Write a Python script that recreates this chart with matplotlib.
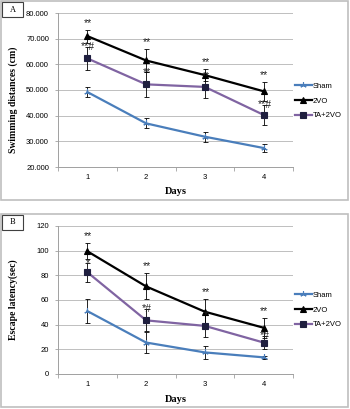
import matplotlib.pyplot as plt
from matplotlib.patches import Rectangle

days = [1, 2, 3, 4]
day_labels = ['1', '2', '3', '4']
groups = ['Sham', '2VO', 'TA+2VO']

# panel A: swimming distance
sham_a = [49.2, 37.0, 31.8, 27.4]
sham_a_err = [2.0, 1.9, 2.0, 1.4]
vo_a = [71.0, 61.5, 55.8, 49.5]
vo_a_err = [2.5, 4.3, 2.4, 3.7]
ta_a = [62.3, 52.2, 51.2, 40.3]
ta_a_err = [4.5, 4.8, 4.2, 3.8]
vo_a_marks = ['**', '**', '**', '**']
ta_a_marks = ['**#', '**', '**', '**#']

# panel B: escape latency
sham_b = [51.0, 25.5, 17.5, 13.5]
sham_b_err = [9.5, 8.5, 5.0, 1.5]
vo_b = [99.5, 71.0, 50.5, 37.5]
vo_b_err = [6.5, 10.5, 10.5, 8.0]
ta_b = [82.5, 43.5, 39.0, 25.5]
ta_b_err = [7.5, 9.0, 9.0, 5.0]
vo_b_marks = ['**', '**', '**', '**']
ta_b_marks = ['*', '*#', '*', '*#']

W, H = 350, 409
fig = plt.figure(figsize=(W / 100, H / 100), dpi=100)

TICK_FONT = 'Liberation Sans'
LABEL_FONT = 'Liberation Serif'
colors = ['#4a7ebb', 'black', '#8064a2']
markers = [(3, 2, 0), '^', 's']


def px(x, y, w, h):
    return [x / W, 1 - (y + h) / H, w / W, h / H]


def panel(top, frame_h, letter, series, errs, marks, ylim, yticks, yfmt,
          ylabel, ylab_y, plot_h, days_y, leg_y):
    # frame
    fig.patches.append(Rectangle((1 / W, 1 - (top + frame_h) / H), 347 / W, frame_h / H,
                                 transform=fig.transFigure, fill=False,
                                 edgecolor='#bfbfbf', lw=1.2))
    fig.patches.append(Rectangle((2 / W, 1 - (top + 16) / H), 21 / W, 15 / H,
                                 transform=fig.transFigure, fill=False,
                                 edgecolor='#404040', lw=0.8))
    fig.text(12.5 / W, 1 - (top + 8.5) / H, letter, ha='center', va='center',
             fontsize=6, family=LABEL_FONT)

    ax = fig.add_axes(px(58, top + 12, 235, plot_h))
    handles = []
    for i, (vals, err) in enumerate(zip(series, errs)):
        ax.errorbar(days, vals, yerr=err, fmt='none', ecolor='black',
                    elinewidth=0.6, capsize=1.8, capthick=0.6, zorder=2)
        mfc = '#1f1f3f' if i == 2 else colors[i]
        h, = ax.plot(days, vals, color=colors[i], lw=1.6, marker=markers[i],
                     ms=4 if i else 4.5, mfc=mfc, mec=mfc, mew=0.8, zorder=3,
                     label=groups[i])
        handles.append(h)

    for vals, err, lab, dy in zip(series[1:], errs[1:], marks, [1.5, 0]):
        for d, v, e, t in zip(days, vals, err, lab):
            ax.annotate(t, (d, v + e), xytext=(0.5, dy), textcoords='offset points',
                        ha='center', va='bottom' if dy else 'center',
                        fontsize=7.5, family=TICK_FONT, color='#202020')

    ax.set_xlim(0.5, 4.5)
    ax.set_ylim(*ylim)
    ax.set_yticks(yticks)
    ax.set_yticklabels([yfmt.format(t) for t in yticks], fontsize=5.5,
                       family=TICK_FONT)
    ax.set_xticks(days)
    ax.set_xticklabels(day_labels, fontsize=5.5, family=TICK_FONT)
    ax.set_xticks([0.5, 1.5, 2.5, 3.5, 4.5], minor=True)
    ax.tick_params(axis='x', which='major', length=0, pad=5)
    ax.tick_params(axis='x', which='minor', length=3, color='#a0a0a0', width=0.6)
    ax.tick_params(axis='y', length=2.5, color='#a0a0a0', width=0.6, pad=4)
    ax.grid(axis='y', color='#bfbfbf', lw=0.7)
    ax.set_axisbelow(True)
    for s in ['top', 'right']:
        ax.spines[s].set_visible(False)
    for s in ['left', 'bottom']:
        ax.spines[s].set_color('#a0a0a0')
        ax.spines[s].set_linewidth(0.7)

    fig.text(13 / W, 1 - (top + ylab_y) / H, ylabel, rotation=90,
             ha='center', va='center', fontsize=7, fontweight='bold',
             family=LABEL_FONT)
    fig.text(176 / W, 1 - (top + days_y) / H, 'Days', ha='center', va='center',
             fontsize=7.5, fontweight='bold', family=LABEL_FONT)

    fig.legend(handles=handles, loc='center left',
               bbox_to_anchor=(292 / W, 1 - (top + leg_y) / H), frameon=False,
               prop={'family': TICK_FONT, 'size': 5.5},
               handlelength=2.2, handletextpad=0.1, labelspacing=0.95,
               borderaxespad=0)


panel(1, 199, 'A', [sham_a, vo_a, ta_a], [sham_a_err, vo_a_err, ta_a_err],
      [vo_a_marks, ta_a_marks], (20, 80), [20, 30, 40, 50, 60, 70, 80],
      '{:.3f}', 'Swimming distances (cm)', 99, 154, 190, 100)
panel(214, 193, 'B', [sham_b, vo_b, ta_b], [sham_b_err, vo_b_err, ta_b_err],
      [vo_b_marks, ta_b_marks], (0, 120), [0, 20, 40, 60, 80, 100, 120],
      '{:d}', 'Escape latency(sec)', 86, 148, 185, 96)

fig.savefig('out.png', dpi=100)
